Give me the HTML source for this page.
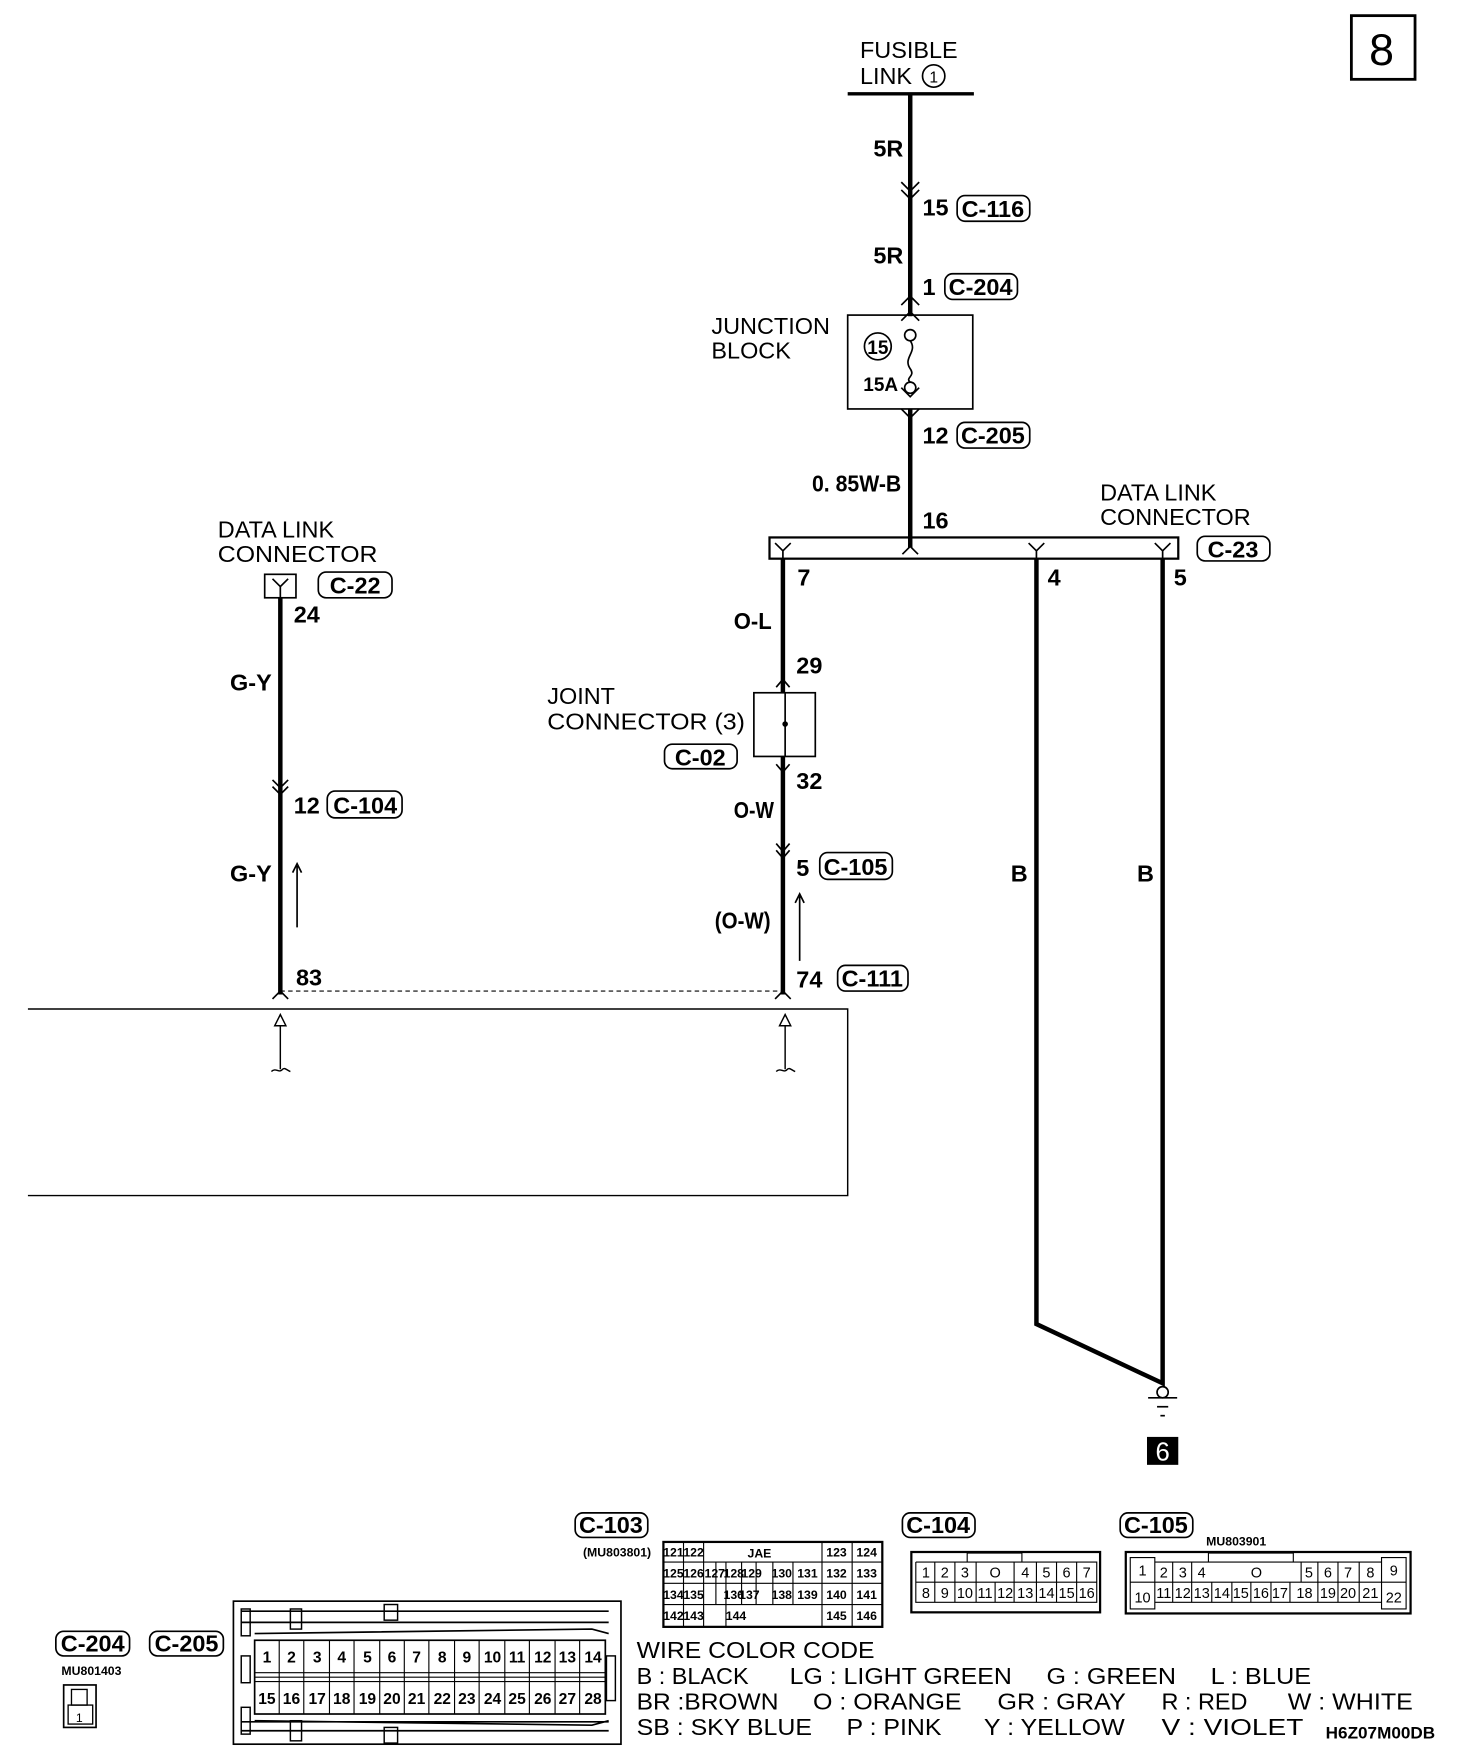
<!DOCTYPE html>
<html><head><meta charset="utf-8"><style>
html,body{margin:0;padding:0;background:#fff;}
svg{display:block}
.n{font-family:"Liberation Sans",sans-serif;font-size:21px;fill:#000}
.b{font-family:"Liberation Sans Narrow","Liberation Sans",sans-serif;font-weight:bold;font-size:21px;fill:#000}
.s{font-family:"Liberation Sans Narrow","Liberation Sans",sans-serif;font-weight:bold;font-size:11px;fill:#000}
.c{font-family:"Liberation Sans Narrow","Liberation Sans",sans-serif;font-size:13px;fill:#000}
</style></head><body>
<svg width="1472" height="1752" viewBox="0 0 1318 1568" preserveAspectRatio="none" xmlns="http://www.w3.org/2000/svg">
<g fill="none" stroke="#000">
<rect x="1210" y="14" width="57" height="57" stroke-width="2.5"/>
<line x1="759" y1="84" x2="872" y2="84" stroke-width="3"/>
<circle cx="836" cy="68" r="10" stroke-width="1.5"/>
<line x1="815" y1="84" x2="815" y2="283" stroke-width="4"/>
<line x1="815" y1="366" x2="815" y2="490" stroke-width="4"/>
<path d="M807 163 L815 171 L823 163 M807 170 L815 178 L823 170" stroke-width="1.5"/>
<path d="M807 273 L815 265 L823 273 M807 287 L815 279 L823 287" stroke-width="1.5"/>
<path d="M807 347 L815 355 L823 347 M807 366 L815 374 L823 366" stroke-width="1.5"/>
<rect x="759" y="282" width="112" height="84" stroke-width="1.5"/>
<circle cx="815" cy="300" r="5" stroke-width="1.5"/>
<circle cx="815" cy="347" r="5" stroke-width="1.5"/>
<path d="M815 305 C822 315 808 320 815 330 C820 337 810 338 815 342" stroke-width="1.5"/>
<circle cx="786" cy="310" r="12" stroke-width="1.5"/>
<rect x="689" y="481" width="366" height="19" stroke-width="2"/>
<path d="M694 486 L701 493 L708 486 M701 493 L701 500" stroke-width="1.5"/>
<path d="M808 496 L815 489 L822 496" stroke-width="1.5"/>
<path d="M921 486 L928 493 L935 486 M928 493 L928 500" stroke-width="1.5"/>
<path d="M1034 486 L1041 493 L1048 486 M1041 493 L1041 500" stroke-width="1.5"/>
<line x1="701" y1="500" x2="701" y2="620" stroke-width="4"/>
<line x1="701" y1="677" x2="701" y2="890" stroke-width="4"/>
<line x1="703" y1="620" x2="703" y2="677" stroke-width="1.5"/>
<path d="M928 500 L928 1185 L1041 1238 L1041 500" stroke-width="4"/>
<rect x="675" y="620" width="55" height="57" stroke-width="1.5"/>
<path d="M695 615 L701 608 L707 615" stroke-width="1.5"/>
<path d="M695 684 L701 691 L707 684" stroke-width="1.5"/>
<path d="M695 755 L701 762 L707 755 M695 761 L701 768 L707 761" stroke-width="1.5"/>
<path d="M716 860 L716 802 M712 808 L716 800 L720 808" stroke-width="1.5"/>
<path d="M694 894 L701 887 L708 894" stroke-width="1.5"/>
<rect x="237" y="514" width="28" height="21" stroke-width="1.5"/>
<path d="M244 518 L251 525 L258 518 M251 525 L251 535" stroke-width="1.5"/>
<line x1="251" y1="535" x2="251" y2="890" stroke-width="4"/>
<path d="M244 698 L251 705 L258 698 M244 704 L251 711 L258 704" stroke-width="1.5"/>
<path d="M266 830 L266 775 M262 781 L266 773 L270 781" stroke-width="1.5"/>
<path d="M244 894 L251 887 L258 894" stroke-width="1.5"/>
<line x1="251" y1="887" x2="701" y2="887" stroke-width="1" stroke-dasharray="4,3"/>
<path d="M25 903 L759 903 L759 1070 L25 1070" stroke-width="1.3"/>
<path d="M246 918 L251 908 L256 918 Z M251 918 L251 957 M243 959 C247 955 250 961 253 957 C255 955 257 958 260 959" stroke-width="1.3"/>
<path d="M698 918 L703 908 L708 918 Z M703 918 L703 957 M695 959 C699 955 702 961 705 957 C707 955 709 958 712 959" stroke-width="1.3"/>
<circle cx="1041" cy="1246" r="5" stroke-width="1.5"/>
<line x1="1028" y1="1251" x2="1054" y2="1251" stroke-width="1.5"/>
<line x1="1036" y1="1259" x2="1046" y2="1259" stroke-width="1.5"/>
<line x1="1039" y1="1267" x2="1043" y2="1267" stroke-width="1.5"/>
<rect x="857" y="175" width="65" height="23" rx="7" stroke-width="1.5"/>
<rect x="846" y="245" width="65" height="23" rx="7" stroke-width="1.5"/>
<rect x="857" y="378" width="65" height="23" rx="7" stroke-width="1.5"/>
<rect x="1072" y="480" width="65" height="22" rx="7" stroke-width="1.5"/>
<rect x="285" y="512" width="66" height="23" rx="7" stroke-width="1.5"/>
<rect x="293" y="708" width="67" height="24" rx="7" stroke-width="1.5"/>
<rect x="595" y="666" width="65" height="22" rx="7" stroke-width="1.5"/>
<rect x="734" y="763" width="65" height="24" rx="7" stroke-width="1.5"/>
<rect x="750" y="864" width="63" height="23" rx="7" stroke-width="1.5"/>
<rect x="515" y="1354" width="65" height="22" rx="7" stroke-width="1.5"/>
<rect x="808" y="1354" width="65" height="22" rx="7" stroke-width="1.5"/>
<rect x="1003" y="1354" width="65" height="22" rx="7" stroke-width="1.5"/>
<rect x="50" y="1460" width="66" height="22" rx="7" stroke-width="1.5"/>
<rect x="134" y="1460" width="66" height="22" rx="7" stroke-width="1.5"/>
<rect x="594" y="1380" width="196" height="76" stroke-width="2"/>
<path d="M594 1398 H790 M594 1417 H790 M594 1436 H790 M612 1380 V1456 M630 1380 V1456 M641 1398 V1436 M650 1398 V1456 M664 1398 V1436 M677 1398 V1436 M692 1398 V1436 M710 1398 V1436 M736 1380 V1456 M763 1380 V1456" stroke-width="1"/>
<rect x="816" y="1389" width="169" height="54" stroke-width="2"/>
<path d="M820 1416 H982 M820 1398 V1434 H982 V1398 H820 M837 1398 V1434 M855 1398 V1434 M874 1398 V1416 M908 1398 V1416 M874 1416 V1434 M891 1416 V1434 M908 1416 V1434 M928 1398 V1434 M946 1398 V1434 M964 1398 V1434 M866 1398 V1390 H915 V1398" stroke-width="1"/>
<rect x="1008" y="1389" width="255" height="55" stroke-width="2"/>
<path d="M1012 1394 H1034 V1440 H1012 Z M1237 1394 H1259 V1440 H1237 Z M1012 1416 H1034 M1237 1416 H1259 M1034 1398 H1237 M1034 1416 H1237 M1034 1434 H1237 M1050 1398 V1434 M1067 1398 V1434 M1085 1416 V1434 M1103 1416 V1434 M1120 1416 V1434 M1138 1416 V1434 M1155 1416 V1434 M1165 1398 V1416 M1180 1398 V1434 M1198 1398 V1434 M1217 1398 V1434 M1082 1398 V1390 H1158 V1398" stroke-width="1"/>
<rect x="57" y="1508" width="29" height="38" stroke-width="1.5"/>
<rect x="64" y="1512" width="14" height="14" stroke-width="1.2"/>
<rect x="61" y="1526" width="22" height="17" stroke-width="1.2"/>
<rect x="209" y="1433" width="347" height="128" stroke-width="1.5"/>
<rect x="228" y="1468" width="314" height="66" stroke-width="1.5"/>
<path d="M228 1501 H542 M228 1497 H542 M228 1505 H542" stroke-width="1"/>
<path d="M250 1468 V1534 M272 1468 V1534 M295 1468 V1534 M317 1468 V1534 M340 1468 V1534 M362 1468 V1534 M384 1468 V1534 M407 1468 V1534 M429 1468 V1534 M452 1468 V1534 M474 1468 V1534 M497 1468 V1534 M519 1468 V1534" stroke-width="1"/>
<path d="M216 1442 H545 M216 1452 H545 M216 1549 H545 M216 1541 H545 M228 1462 L530 1458 L545 1462 M228 1540 L530 1544 L545 1540" stroke-width="1.5"/>
<rect x="216" y="1440" width="8" height="24" stroke-width="1.3"/>
<rect x="216" y="1482" width="8" height="24" stroke-width="1.3"/>
<rect x="216" y="1528" width="8" height="24" stroke-width="1.3"/>
<rect x="260" y="1440" width="10" height="18" stroke-width="1.3"/>
<rect x="260" y="1540" width="10" height="18" stroke-width="1.3"/>
<rect x="344" y="1436" width="12" height="14" stroke-width="1.3"/>
<rect x="344" y="1546" width="12" height="14" stroke-width="1.3"/>
<rect x="543" y="1482" width="8" height="40" stroke-width="1.3"/>
</g>
<rect x="1027" y="1286" width="28" height="25" fill="#000"/>
<circle cx="703" cy="648" r="2.5" fill="#000"/>
<g>
<text x="1237" y="58" class="n" style="font-size:40px" text-anchor="middle">8</text>
<text x="770" y="52" class="n">FUSIBLE</text>
<text x="770" y="75" class="n">LINK</text>
<text x="836" y="74" class="n" style="font-size:14px" text-anchor="middle">1</text>
<text x="782" y="140" class="b">5R</text>
<text x="826" y="193" class="b">15</text><text x="889" y="194" class="b" text-anchor="middle">C-116</text>
<text x="782" y="236" class="b">5R</text>
<text x="826" y="264" class="b">1</text><text x="878" y="264" class="b" text-anchor="middle">C-204</text>
<text x="637" y="299" class="n">JUNCTION</text>
<text x="637" y="321" class="n">BLOCK</text>
<text x="786" y="317" class="b" style="font-size:17px" text-anchor="middle">15</text>
<text x="773" y="350" class="b" style="font-size:17px">15A</text>
<text x="826" y="397" class="b">12</text><text x="889" y="397" class="b" text-anchor="middle">C-205</text>
<text x="727" y="440" class="b" textLength="80" lengthAdjust="spacingAndGlyphs">0. 85W-B</text>
<text x="826" y="473" class="b">16</text>
<text x="985" y="448" class="n">DATA LINK</text>
<text x="985" y="470" class="n">CONNECTOR</text>
<text x="1104" y="499" class="b" text-anchor="middle">C-23</text>
<text x="714" y="524" class="b">7</text>
<text x="938" y="524" class="b">4</text>
<text x="1051" y="524" class="b">5</text>
<text x="657" y="563" class="b" textLength="34" lengthAdjust="spacingAndGlyphs">O-L</text>
<text x="713" y="603" class="b">29</text>
<text x="490" y="630" class="n">JOINT</text>
<text x="490" y="653" class="n" textLength="177" lengthAdjust="spacingAndGlyphs">CONNECTOR (3)</text>
<text x="627" y="685" class="b" text-anchor="middle">C-02</text>
<text x="713" y="706" class="b">32</text>
<text x="657" y="732" class="b" textLength="36" lengthAdjust="spacingAndGlyphs">O-W</text>
<text x="713" y="784" class="b">5</text><text x="766" y="783" class="b" text-anchor="middle">C-105</text>
<text x="640" y="831" class="b" textLength="50" lengthAdjust="spacingAndGlyphs">(O-W)</text>
<text x="713" y="884" class="b">74</text><text x="781" y="883" class="b" text-anchor="middle">C-111</text>
<text x="195" y="481" class="n">DATA LINK</text>
<text x="195" y="503" class="n" textLength="143" lengthAdjust="spacingAndGlyphs">CONNECTOR</text>
<text x="318" y="531" class="b" text-anchor="middle">C-22</text>
<text x="263" y="557" class="b">24</text>
<text x="206" y="618" class="b">G-Y</text>
<text x="263" y="728" class="b">12</text><text x="327" y="728" class="b" text-anchor="middle">C-104</text>
<text x="206" y="789" class="b">G-Y</text>
<text x="265" y="882" class="b">83</text>
<text x="905" y="789" class="b">B</text>
<text x="1018" y="789" class="b">B</text>
<text x="1041" y="1307" class="n" style="font-size:23px;fill:#fff" text-anchor="middle">6</text>
<text x="547" y="1372" class="b" text-anchor="middle">C-103</text>
<text x="840" y="1372" class="b" text-anchor="middle">C-104</text>
<text x="1035" y="1372" class="b" text-anchor="middle">C-105</text>
<text x="83" y="1478" class="b" text-anchor="middle">C-204</text>
<text x="167" y="1478" class="b" text-anchor="middle">C-205</text>
<text x="522" y="1393" class="s">(MU803801)</text>
<text x="1080" y="1383" class="s">MU803901</text>
<text x="55" y="1499" class="s">MU801403</text>
<text x="71" y="1541" class="c" text-anchor="middle" style="font-size:11px">1</text>
<text x="680" y="1394" class="s" text-anchor="middle">JAE</text>
<g class="s" text-anchor="middle">
<text x="603" y="1393">121</text><text x="621" y="1393">122</text><text x="749" y="1393">123</text><text x="776" y="1393">124</text>
<text x="603" y="1412">125</text><text x="621" y="1412">126</text><text x="640" y="1412">127</text><text x="657" y="1412">128</text><text x="673" y="1412">129</text><text x="700" y="1412">130</text><text x="723" y="1412">131</text><text x="749" y="1412">132</text><text x="776" y="1412">133</text>
<text x="603" y="1431">134</text><text x="621" y="1431">135</text><text x="657" y="1431">136</text><text x="671" y="1431">137</text><text x="700" y="1431">138</text><text x="723" y="1431">139</text><text x="749" y="1431">140</text><text x="776" y="1431">141</text>
<text x="603" y="1450">142</text><text x="621" y="1450">143</text><text x="659" y="1450">144</text><text x="749" y="1450">145</text><text x="776" y="1450">146</text>
</g>
<g class="c" text-anchor="middle">
<text x="829" y="1412">1</text><text x="846" y="1412">2</text><text x="864" y="1412">3</text><text x="891" y="1412">O</text><text x="918" y="1412">4</text><text x="937" y="1412">5</text><text x="955" y="1412">6</text><text x="973" y="1412">7</text>
<text x="829" y="1430">8</text><text x="846" y="1430">9</text><text x="864" y="1430">10</text><text x="882" y="1430">11</text><text x="900" y="1430">12</text><text x="918" y="1430">13</text><text x="937" y="1430">14</text><text x="955" y="1430">15</text><text x="973" y="1430">16</text>
<text x="1023" y="1410">1</text><text x="1023" y="1434">10</text><text x="1248" y="1410">9</text><text x="1248" y="1434">22</text>
<text x="1042" y="1412">2</text><text x="1059" y="1412">3</text><text x="1076" y="1412">4</text><text x="1125" y="1412">O</text><text x="1172" y="1412">5</text><text x="1189" y="1412">6</text><text x="1207" y="1412">7</text><text x="1227" y="1412">8</text>
<text x="1042" y="1430">11</text><text x="1059" y="1430">12</text><text x="1076" y="1430">13</text><text x="1094" y="1430">14</text><text x="1111" y="1430">15</text><text x="1129" y="1430">16</text><text x="1146" y="1430">17</text><text x="1168" y="1430">18</text><text x="1189" y="1430">19</text><text x="1207" y="1430">20</text><text x="1227" y="1430">21</text>
</g>
<g class="c" text-anchor="middle" style="font-size:14px;font-weight:bold">
<text x="239" y="1488">1</text><text x="261" y="1488">2</text><text x="284" y="1488">3</text><text x="306" y="1488">4</text><text x="329" y="1488">5</text><text x="351" y="1488">6</text><text x="373" y="1488">7</text><text x="396" y="1488">8</text><text x="418" y="1488">9</text><text x="441" y="1488">10</text><text x="463" y="1488">11</text><text x="486" y="1488">12</text><text x="508" y="1488">13</text><text x="531" y="1488">14</text>
<text x="239" y="1525">15</text><text x="261" y="1525">16</text><text x="284" y="1525">17</text><text x="306" y="1525">18</text><text x="329" y="1525">19</text><text x="351" y="1525">20</text><text x="373" y="1525">21</text><text x="396" y="1525">22</text><text x="418" y="1525">23</text><text x="441" y="1525">24</text><text x="463" y="1525">25</text><text x="486" y="1525">26</text><text x="508" y="1525">27</text><text x="531" y="1525">28</text>
</g>
<text x="570" y="1484" class="n" textLength="213" lengthAdjust="spacingAndGlyphs">WIRE COLOR CODE</text>
<text x="570" y="1507" class="n">B : BLACK</text><text x="707" y="1507" class="n" textLength="199" lengthAdjust="spacingAndGlyphs">LG : LIGHT GREEN</text><text x="937" y="1507" class="n" textLength="116" lengthAdjust="spacingAndGlyphs">G : GREEN</text><text x="1084" y="1507" class="n" textLength="90" lengthAdjust="spacingAndGlyphs">L : BLUE</text>
<text x="570" y="1530" class="n" textLength="127" lengthAdjust="spacingAndGlyphs">BR :BROWN</text><text x="728" y="1530" class="n" textLength="133" lengthAdjust="spacingAndGlyphs">O : ORANGE</text><text x="893" y="1530" class="n" textLength="115" lengthAdjust="spacingAndGlyphs">GR : GRAY</text><text x="1040" y="1530" class="n">R : RED</text><text x="1153" y="1530" class="n" textLength="112" lengthAdjust="spacingAndGlyphs">W : WHITE</text>
<text x="570" y="1553" class="n" textLength="157" lengthAdjust="spacingAndGlyphs">SB : SKY BLUE</text><text x="758" y="1553" class="n" textLength="85" lengthAdjust="spacingAndGlyphs">P : PINK</text><text x="881" y="1553" class="n" textLength="126" lengthAdjust="spacingAndGlyphs">Y : YELLOW</text><text x="1040" y="1553" class="n" textLength="127" lengthAdjust="spacingAndGlyphs">V : VIOLET</text>
<text x="1187" y="1556" class="b" style="font-size:15px" textLength="98" lengthAdjust="spacingAndGlyphs">H6Z07M00DB</text>
</g>
</svg>
</body></html>
